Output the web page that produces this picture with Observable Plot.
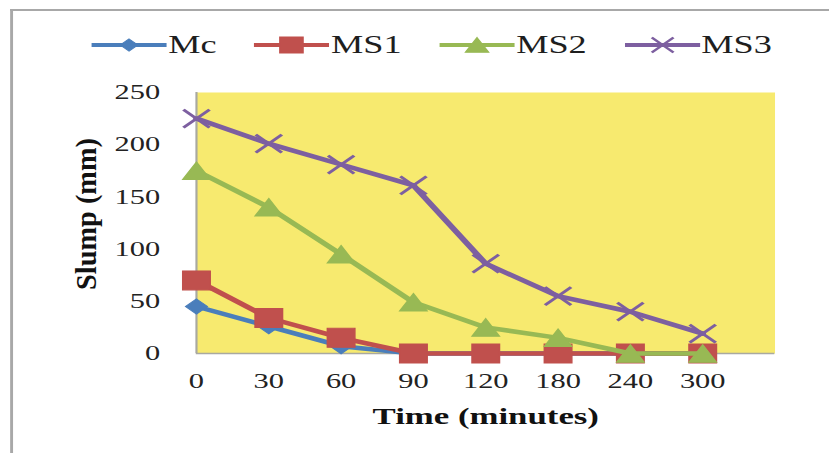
<!DOCTYPE html>
<html>
<head>
<meta charset="utf-8">
<script src="https://cdn.jsdelivr.net/npm/d3@7"></script>
<script src="https://cdn.jsdelivr.net/npm/@observablehq/plot@0.6"></script>
<style>
  html, body { margin: 0; padding: 0; background: #fff; overflow: hidden; }
  #chart { position: absolute; left: 0; top: 0; width: 572px; height: 453px;
           transform: scaleX(1.45); transform-origin: 0 0; font-family: "Liberation Serif", serif; }
  #border { position: absolute; left: 7px; top: 9px; width: 700px; height: 600px;
            border-left: 2px solid #a8a8a8; border-top: 2px solid #a8a8a8; }
  #legend { position: absolute; left: 63px; top: 30px; height: 30px; display: flex;
            align-items: center; gap: 26px; }
  .item { display: flex; align-items: center; }
  .item span { font-size: 25px; color: #1e1e1e; margin-left: 1px; line-height: 30px; }
  #plot { position: absolute; left: 0; top: 70px; }
  #plot svg { overflow: visible; }
</style>
</head>
<body>
<div id="chart">
  <div id="border"></div>
  <div id="legend"></div>
  <div id="plot"></div>
</div>
<script>
// ---- data ----
const times = ["0", "30", "60", "90", "120", "180", "240", "300"];
const seriesNames = ["Mc", "MS1", "MS2", "MS3"];
const mc  = [45, 26, 7, 0, 0, 0, 0, 0];
const ms1 = [70, 34, 15, 0, 0, 0, 0, 0];
const ms2 = [175, 140, 95, 49, 25, 15, 0, 0];
const ms3 = [225, 201, 181, 161, 86, 55, 40, 19];
const yTicks = [0, 50, 100, 150, 200, 250];

const colors = {Mc: "#4a7ebb", MS1: "#c0504d", MS2: "#98b954", MS3: "#7d5fa0"};
const valuesBy = {Mc: mc, MS1: ms1, MS2: ms2, MS3: ms3};

// custom marker shapes (r = half size)
function sym(kind) {
  return {
    draw(ctx, size) {
      const r = Math.sqrt(size / Math.PI);
      if (kind === "square") { ctx.rect(-r, -r, 2 * r, 2 * r); }
      else if (kind === "diamond") { ctx.moveTo(0, -r); ctx.lineTo(r, 0); ctx.lineTo(0, r); ctx.lineTo(-r, 0); ctx.closePath(); }
      else if (kind === "triangle") { ctx.moveTo(0, -r * 0.92); ctx.lineTo(r, r * 0.92); ctx.lineTo(-r, r * 0.92); ctx.closePath(); }
      else if (kind === "x") { ctx.moveTo(-r, -r); ctx.lineTo(r, r); ctx.moveTo(r, -r); ctx.lineTo(-r, r); }
    }
  };
}
const markers = {
  Mc:  {symbol: sym("diamond"), r: 7.5, filled: true},
  MS1: {symbol: sym("square"), r: 9.5, filled: true},
  MS2: {symbol: sym("triangle"), r: 9.5, filled: true},
  MS3: {symbol: sym("x"), r: 9, filled: false}
};

const rows = [];
seriesNames.forEach(s => valuesBy[s].forEach((v, i) => rows.push({series: s, i, v})));

const marks = [
  Plot.frame({fill: "#f7ea6f", stroke: null}),
  Plot.ruleX([0], {stroke: "#a9a9a0", strokeWidth: 1.5}),
  Plot.ruleY([0], {stroke: "#a9a9a0", strokeWidth: 1.5})
];
for (const s of seriesNames) {
  const d = rows.filter(r => r.series === s);
  const m = markers[s];
  marks.push(Plot.line(d, {x: "i", y: "v", stroke: colors[s], strokeWidth: 4.5, curve: "linear"}));
  marks.push(Plot.dot(d, {x: "i", y: "v", symbol: m.symbol, r: m.r,
    fill: m.filled ? colors[s] : "none", stroke: colors[s], strokeWidth: m.filled ? 1 : 2.5}));
}
marks.push(Plot.text(["Time (minutes)"], {text: d => d, frameAnchor: "bottom", dy: 63, lineAnchor: "middle",
  textAnchor: "middle", fontSize: 24, fontWeight: "bold", fill: "#111"}));
marks.push(Plot.text(["Slump (mm)"], {text: d => d, frameAnchor: "left", rotate: -90, dx: -76, dy: -9,
  lineAnchor: "middle", textAnchor: "middle", fontSize: 21, fontWeight: "bold", fill: "#111"}));

const chart = Plot.plot({
  width: 572,
  height: 383,
  marginLeft: 135,
  marginRight: 38,
  marginTop: 22,
  marginBottom: 100,
  style: {fontFamily: "Liberation Serif, serif", fontSize: "21px", background: "transparent", color: "#222", overflow: "visible"},
  x: {type: "linear", domain: [0, 8], ticks: d3.range(times.length), tickFormat: i => times[i],
      tickSize: 0, tickPadding: 20, label: null},
  y: {domain: [0, 250], ticks: yTicks, tickSize: 0, tickPadding: 25, label: null},
  marks
});
document.getElementById("plot").appendChild(chart);

// stretch rotated axis title along its own direction
chart.querySelectorAll("text").forEach(t => {
  if (t.textContent === "Slump (mm)") {
    let el = t.getAttribute("transform") ? t : t.parentNode;
    const tr = el.getAttribute("transform") || "";
    el.setAttribute("transform", tr + " scale(1.35,1)");
  }
});

// legend
const legend = document.getElementById("legend");
for (const s of seriesNames) {
  const m = markers[s];
  const item = document.createElement("div");
  item.className = "item";
  const svg = d3.create("svg").attr("width", 52).attr("height", 30);
  svg.append("line").attr("x1", 0).attr("x2", 52).attr("y1", 15).attr("y2", 15)
    .attr("stroke", colors[s]).attr("stroke-width", 4);
  svg.append("path").attr("transform", "translate(26,15)")
    .attr("d", d3.symbol(m.symbol, Math.PI * (m.r - 1.5) * (m.r - 1.5))())
    .attr("fill", m.filled ? colors[s] : "none").attr("stroke", colors[s])
    .attr("stroke-width", m.filled ? 1 : 2);
  item.appendChild(svg.node());
  const span = document.createElement("span");
  span.textContent = s;
  item.appendChild(span);
  legend.appendChild(item);
}
</script>
</body>
</html>
